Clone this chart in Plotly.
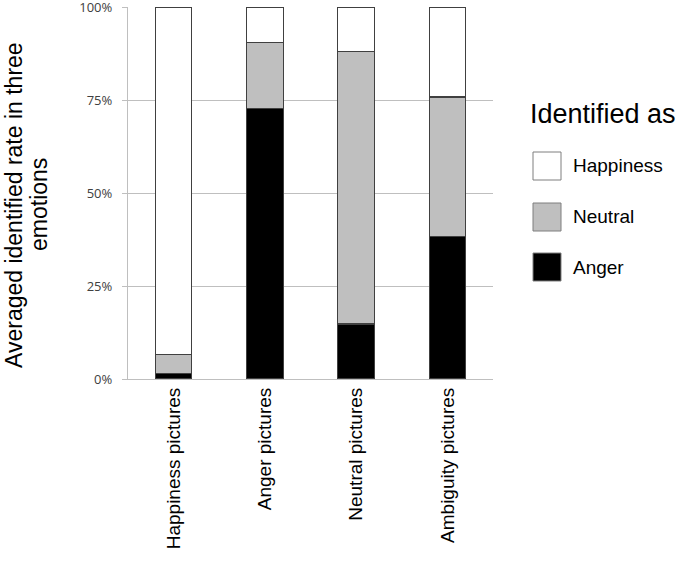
import plotly.graph_objects as go

categories = ["Happiness pictures", "Anger pictures", "Neutral pictures", "Ambiguity pictures"]
anger = [1.5, 72.8, 14.8, 38.4]
neutral = [5.0, 17.6, 73.2, 37.4]
happiness = [93.5, 9.6, 12.0, 24.2]
series_names = ["Anger", "Neutral", "Happiness"]
series_colors = ["#000000", "#bfbfbf", "#ffffff"]
y_ticks = [0, 25, 50, 75, 100]
y_ticktext = ["0%", "25%", "50%", "75%", "100%"]
y_title_lines = ["Averaged identified rate in three", "emotions"]

W, H = 685, 565
L, R, T, B = 128, 192, 7, 186
pw, ph = W - L - R, H - T - B

def px(x):
    return (x - L) / pw

def py(y):
    return (H - B - y) / ph

fig = go.Figure()
for name, vals, col in zip(series_names, [anger, neutral, happiness], series_colors):
    fig.add_trace(go.Bar(
        x=categories, y=vals, name=name,
        marker=dict(color=col, line=dict(color="#404040", width=1.2)),
        width=0.4, showlegend=False,
    ))

shapes = []
annotations = []
legend_items = [("Happiness", "#ffffff", 152), ("Neutral", "#bfbfbf", 203), ("Anger", "#000000", 253)]
for label, col, ytop in legend_items:
    shapes.append(dict(type="rect", xref="paper", yref="paper",
                       x0=px(533), x1=px(561), y0=py(ytop + 28), y1=py(ytop),
                       fillcolor=col, line=dict(color="#7f7f7f", width=1)))
    annotations.append(dict(text=label, xref="paper", yref="paper",
                            x=px(571), y=py(ytop + 14), xanchor="left", yanchor="middle",
                            showarrow=False, font=dict(size=19, color="#000000",
                                                       family="Liberation Sans, Arial")))
annotations.append(dict(text="Identified as", xref="paper", yref="paper",
                        x=px(528), y=py(114), xanchor="left", yanchor="middle",
                        showarrow=False, font=dict(size=27, color="#000000",
                                                   family="Liberation Sans, Arial")))
for line, xc in zip(y_title_lines, [14, 39]):
    annotations.append(dict(text=line, xref="paper", yref="paper", x=px(xc), y=py(205),
                            xanchor="center", yanchor="middle", textangle=-90,
                            showarrow=False, font=dict(size=23, color="#000000",
                                                       family="Liberation Sans, Arial")))

fig.update_layout(
    barmode="stack",
    width=W, height=H,
    margin=dict(l=L, r=R, t=T, b=B, pad=0, autoexpand=False),
    paper_bgcolor="white", plot_bgcolor="white",
    shapes=shapes, annotations=annotations,
    font=dict(family="Liberation Sans, Arial", color="#000000"),
    xaxis=dict(
        showline=True, linecolor="#bfbfbf", linewidth=1.2,
        ticks="", tickangle=-90, automargin=False,
        tickfont=dict(size=19, color="#000000", family="Liberation Sans, Arial"),
        showgrid=False,
    ),
    yaxis=dict(
        range=[0, 100], tickvals=y_ticks, ticktext=y_ticktext, automargin=False,
        showline=True, linecolor="#bfbfbf", linewidth=1.2,
        ticks="outside", ticklen=5, tickcolor="#bfbfbf", tickwidth=1.2,
        showgrid=True, gridcolor="#bfbfbf", gridwidth=1.2,
        zeroline=False,
        tickfont=dict(size=13, color="#404040", family="Open Sans, Liberation Sans"),
        ticklabelstandoff=7, ticklabeloverflow="allow",
    ),
)

fig.write_html("out.html", config={"displayModeBar": False},
               post_script="document.body.style.margin='0';document.body.style.overflow='hidden';")
